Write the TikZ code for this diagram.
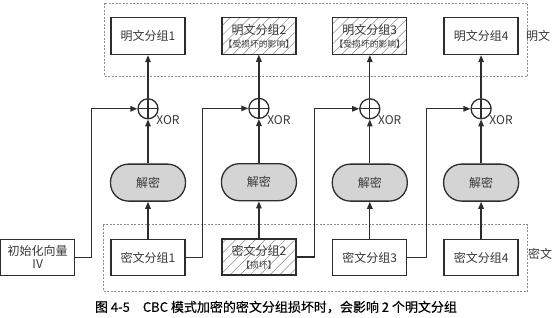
\documentclass[tikz,border=0pt]{standalone}
\usepackage{fontspec}
\setmainfont{Noto Sans CJK SC}
\newfontfamily\capfont{Noto Sans CJK SC}[FakeBold=0.3]
\usetikzlibrary{arrows.meta, positioning, calc, patterns.meta}
\definecolor{cbcline}{RGB}{45, 45, 45}
\definecolor{cbctext}{RGB}{55, 55, 55}
\definecolor{cbcfill}{RGB}{212, 212, 212}
\definecolor{cbcframe}{RGB}{140, 140, 140}
\newcommand{\damagetag}[1]{{\fontsize{8.8}{9.5}\selectfont #1}}

\begin{document}
\begin{tikzpicture}[
  x=1pt, y=1pt,
  node distance=36pt,
  block/.style={rectangle, draw=cbcline, line width=1.3pt, text=cbctext,
               minimum width=74pt, minimum height=37pt, align=center,
               inner sep=0.5pt, font=\fontsize{12}{13}\selectfont},
  broken/.style={block, pattern={Lines[angle=45, distance=7pt, line width=0.5pt]},
               pattern color=cbcline!55},
  decrypt/.style={rectangle, rounded corners=18pt, draw=cbcline, line width=1.3pt,
               fill=cbcfill, text=cbctext, minimum width=75pt, minimum height=37pt,
               font=\fontsize{12}{13}\selectfont},
  xor/.style={circle, draw=cbcline, line width=1.3pt, minimum size=20pt, inner sep=0pt,
               path picture={\draw[cbcline, line width=1.3pt]
                 (path picture bounding box.north) -- (path picture bounding box.south)
                 (path picture bounding box.west) -- (path picture bounding box.east);},
               label={[text=cbctext, font=\fontsize{12}{13}\selectfont, inner sep=0pt]-40:XOR}},
  frame/.style={draw=cbcframe, line width=0.6pt, dash pattern=on 2pt off 1.5pt},
  side/.style={text=cbctext, font=\fontsize{12}{13}\selectfont},
  arrow/.style={-{Triangle[length=7pt, width=5.5pt]}, line width=1.3pt, draw=cbcline},
]
  \useasboundingbox (0,0) rectangle (554,317);

  % Plaintext blocks
  \node[block] (p1) at (148,281) {明文分组1};
  \node[broken, right=of p1] (p2) {明文分组2\\\damagetag{【受损坏的影响】}};
  \node[broken, right=of p2] (p3) {明文分组3\\\damagetag{【受损坏的影响】}};
  \node[block, right=of p3] (p4) {明文分组4};

  % XOR
  \node[xor, below=43pt of p1] (x1) {};
  \node[xor, below=43pt of p2] (x2) {};
  \node[xor, below=43pt of p3] (x3) {};
  \node[xor, below=43pt of p4] (x4) {};

  % Decryption
  \node[decrypt, below=44pt of x1] (d1) {解密};
  \node[decrypt, below=44pt of x2] (d2) {解密};
  \node[decrypt, below=44pt of x3] (d3) {解密};
  \node[decrypt, below=44pt of x4] (d4) {解密};

  % Ciphertext blocks
  \node[block, minimum height=36pt, below=37pt of d1] (c1) {密文分组1};
  \node[broken, minimum height=36pt, below=37pt of d2] (c2) {密文分组2\\\damagetag{【损坏】}};
  \node[block, minimum height=36pt, below=37pt of d3] (c3) {密文分组3};
  \node[block, minimum height=36pt, below=37pt of d4] (c4) {密文分组4};
  \node[block, minimum height=36pt, left=35pt of c1] (iv) {初始化向量\\IV};

  % Frames
  \draw[frame] ($(p1.north west)+(-6pt,14pt)$) rectangle ($(p4.south east)+(9pt,-21pt)$);
  \draw[frame] ($(c1.north west)+(-7pt,14pt)$) rectangle ($(c4.south east)+(9pt,-15pt)$);
  \node[side] (plain) at (538,281) {明文};
  \node[side] (cipher) at (540,63) {密文};

  % Arrows
  \draw[arrow] (c1) -- (d1);
  \draw[arrow] (c2) -- (d2);
  \draw[arrow] (c3) -- (d3);
  \draw[arrow] (c4) -- (d4);
  \draw[arrow] (d1) -- (x1);
  \draw[arrow] (d2) -- (x2);
  \draw[arrow] (d3) -- (x3);
  \draw[arrow] (d4) -- (x4);
  \draw[arrow] (x1) -- (p1);
  \draw[arrow] (x2) -- (p2);
  \draw[arrow] (x3) -- (p3);
  \draw[arrow] (x4) -- (p4);
  \draw[arrow] (iv.east) -- ++(16pt,0) |- (x1.west);
  \draw[arrow] (c1.east) -- ++(17pt,0) |- (x2.west);
  \draw[arrow] (c2.east) -- ++(18pt,0) |- (x3.west);
  \draw[arrow] (c3.east) -- ++(19pt,0) |- (x4.west);

  % Caption
  \node[font=\capfont\fontsize{13}{14}\selectfont] (caption) at (276,10)
    {图 4-5\quad CBC 模式加密的密文分组损坏时，会影响 2 个明文分组};
\end{tikzpicture}
\end{document}
